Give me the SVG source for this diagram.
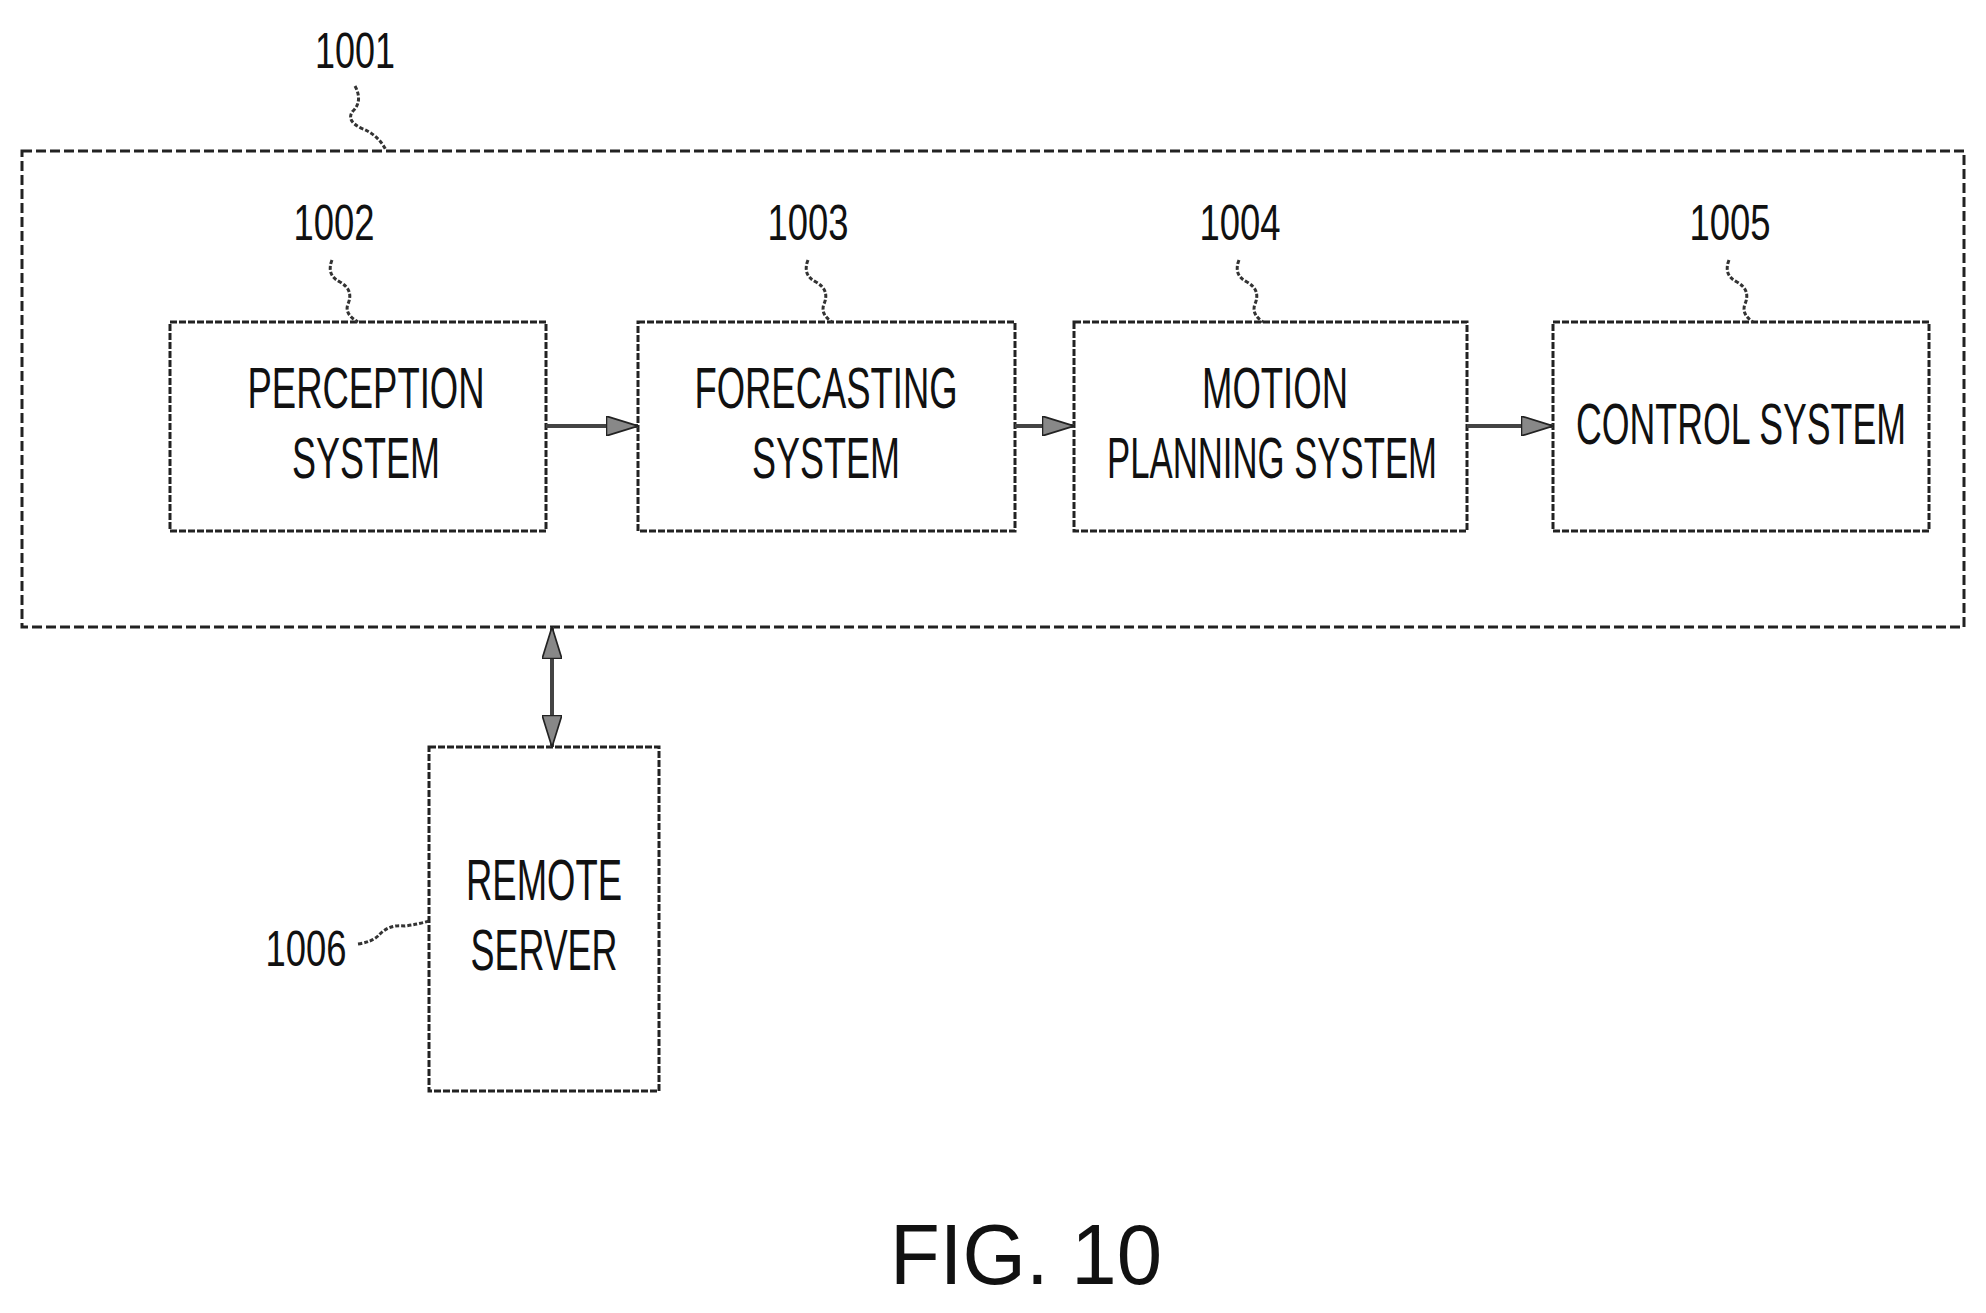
<svg xmlns="http://www.w3.org/2000/svg" width="1986" height="1313" viewBox="0 0 1986 1313">
<style>
.box{fill:none;stroke:#222;stroke-width:3;stroke-dasharray:7 2}
.outer{fill:none;stroke:#222;stroke-width:3;stroke-dasharray:10 4}
.t{font-family:"Liberation Sans",Arial,sans-serif;font-size:58px;fill:#111;text-anchor:middle}
.n{font-family:"Liberation Sans",Arial,sans-serif;font-size:50px;fill:#111;text-anchor:middle}
.lead{fill:none;stroke:#333;stroke-width:3;stroke-dasharray:4 2}
.c{stroke:#444;stroke-width:4;fill:none}
</style>
<defs>
<marker id="ah" viewBox="0 0 10 10" refX="10" refY="5" markerWidth="8" markerHeight="5" orient="auto-start-reverse" markerUnits="strokeWidth" preserveAspectRatio="none">
<path d="M0,0 L10,5 L0,10 z" fill="#888" stroke="#222" stroke-width="0.8"/>
</marker>
</defs>
<g id="n1001">
<rect class="outer" x="22" y="151" width="1942" height="476"/>
<text class="n" x="355" y="68" textLength="80" lengthAdjust="spacingAndGlyphs">1001</text>
<path class="lead" d="M355,86 q8,15 -2,25 q-8,10 10,18 q15,6 23,21"/>
</g>
<g id="n1002">
<rect class="box" x="170" y="322" width="376" height="209"/>
<text class="t" x="366" y="408" textLength="237" lengthAdjust="spacingAndGlyphs">PERCEPTION</text>
<text class="t" x="366" y="478" textLength="148" lengthAdjust="spacingAndGlyphs">SYSTEM</text>
<text class="n" x="334" y="240" textLength="81" lengthAdjust="spacingAndGlyphs">1002</text>
<path class="lead" d="M332,260 q-6,15 8,22 q14,8 8,22 q-4,10 10,18"/>
</g>
<g id="n1003">
<rect class="box" x="638" y="322" width="377" height="209"/>
<text class="t" x="826" y="408" textLength="263" lengthAdjust="spacingAndGlyphs">FORECASTING</text>
<text class="t" x="826" y="478" textLength="148" lengthAdjust="spacingAndGlyphs">SYSTEM</text>
<text class="n" x="808" y="240" textLength="81" lengthAdjust="spacingAndGlyphs">1003</text>
<path class="lead" d="M808,260 q-6,15 8,22 q14,8 8,22 q-4,10 8,18"/>
</g>
<g id="n1004">
<rect class="box" x="1074" y="322" width="393" height="209"/>
<text class="t" x="1275" y="408" textLength="146" lengthAdjust="spacingAndGlyphs">MOTION</text>
<text class="t" x="1272" y="478" textLength="330" lengthAdjust="spacingAndGlyphs">PLANNING SYSTEM</text>
<text class="n" x="1240" y="240" textLength="81" lengthAdjust="spacingAndGlyphs">1004</text>
<path class="lead" d="M1239,260 q-6,15 8,22 q14,8 8,22 q-4,10 8,18"/>
</g>
<g id="n1005">
<rect class="box" x="1553" y="322" width="376" height="209"/>
<text class="t" x="1741" y="444" textLength="330" lengthAdjust="spacingAndGlyphs">CONTROL SYSTEM</text>
<text class="n" x="1730" y="240" textLength="81" lengthAdjust="spacingAndGlyphs">1005</text>
<path class="lead" d="M1729,260 q-6,15 8,22 q14,8 8,22 q-4,10 8,18"/>
</g>
<g id="n1006">
<rect class="box" x="429" y="747" width="230" height="344"/>
<text class="t" x="544" y="900" textLength="156" lengthAdjust="spacingAndGlyphs">REMOTE</text>
<text class="t" x="544" y="970" textLength="147" lengthAdjust="spacingAndGlyphs">SERVER</text>
<text class="n" x="306" y="966" textLength="81" lengthAdjust="spacingAndGlyphs">1006</text>
<path class="lead" d="M358,944 q15,-2 22,-10 q10,-10 25,-8 q14,-2 24,-5"/>
</g>
<g id="connectors">
<line class="c" x1="546" y1="426" x2="638" y2="426" marker-end="url(#ah)"/>
<line class="c" x1="1015" y1="426" x2="1074" y2="426" marker-end="url(#ah)"/>
<line class="c" x1="1467" y1="426" x2="1553" y2="426" marker-end="url(#ah)"/>
<line class="c" x1="552" y1="627" x2="552" y2="747" marker-start="url(#ah)" marker-end="url(#ah)"/>
</g>
<text x="1026" y="1284" textLength="272" lengthAdjust="spacingAndGlyphs" style="font-family:'Liberation Sans',Arial,sans-serif;font-size:86px;fill:#111;text-anchor:middle">FIG. 10</text>
</svg>
